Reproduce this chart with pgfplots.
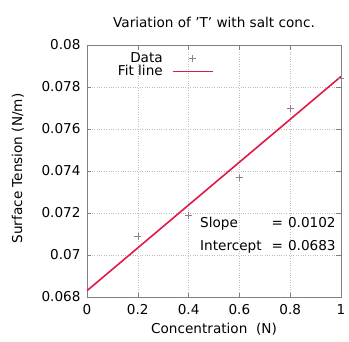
\documentclass[border=0pt]{standalone}
\usepackage{pgfplots}
\pgfplotsset{compat=1.18}
\usepackage{fontspec}
\setmainfont{DejaVu Sans}
\definecolor{fitred}{RGB}{225,25,70}
\definecolor{markgray}{RGB}{150,125,150}
\newcommand\chartfont{\fontsize{13.6}{15}\selectfont}
\begin{document}
\begin{tikzpicture}
\path[use as bounding box] (0,0) rectangle (349pt,341pt);
\begin{axis}[
  at={(87pt,44pt)}, anchor=south west,
  scale only axis, width=254pt, height=252pt,
  xmin=0, xmax=1, ymin=0.068, ymax=0.08,
  xtick={0,0.2,...,1}, ytick={0.068,0.07,...,0.0801},
  font=\chartfont,
  /pgf/number format/assume math mode=true,
  xticklabel style={/pgf/number format/fixed,/pgf/number format/precision=1, yshift=-4pt},
  yticklabel style={/pgf/number format/fixed,/pgf/number format/precision=3, xshift=-3pt},
  scaled y ticks=false,
  axis line style={black!50},
  tick style={black!50, major tick length=4.5pt},
  tick align=inside,
  grid=major,
  major grid style={black!25, dotted},
  title={Variation of 'T' with salt conc.},
  title style={at={(axis description cs:0.5,1.067)}, anchor=center},
  xlabel={Concentration\ \ (N)},
  xlabel style={at={(axis description cs:0.5,-0.127)}, anchor=center},
  ylabel={Surface Tension (N/m)},
  ylabel style={at={(axis description cs:-0.272,0.51)}, anchor=center},
  legend cell align=right,
  legend plot pos=right,
  legend style={draw=none, fill=none, at={(axis description cs:0.51,0.985)}, anchor=north east, row sep=-3pt, column sep=7pt, font=\chartfont},
]
\addplot[only marks, mark=+, mark size=3.5pt, markgray, thin,
  legend image code/.code={\draw[markgray, thin] (0pt,0pt) (40pt,0pt) (16.5pt,0pt) -- (23.5pt,0pt) (20pt,-3.5pt) -- (20pt,3.5pt);}] coordinates {
  (0.2,0.0709) (0.4,0.0719) (0.6,0.0737) (0.8,0.0770) (1.0,0.0784)
};
\addlegendentry{Data}
\addplot[fitred, line width=1.6pt, no marks,
  legend image code/.code={\draw[fitred, line width=1.6pt] (0pt,0pt) -- (40pt,0pt);}] coordinates {
  (0,0.0683) (1,0.0785)
};
\addlegendentry{Fit line}
\node[anchor=west, inner sep=0pt, font=\chartfont] at (axis cs:0.445,0.07090) {%
  \begin{tabular}{@{}l@{\hspace{10pt}}l@{}}
  Slope & =\hspace{5pt}0.0102\\[8pt]
  Intercept & =\hspace{5pt}0.0683
  \end{tabular}};
\end{axis}
\end{tikzpicture}
\end{document}
